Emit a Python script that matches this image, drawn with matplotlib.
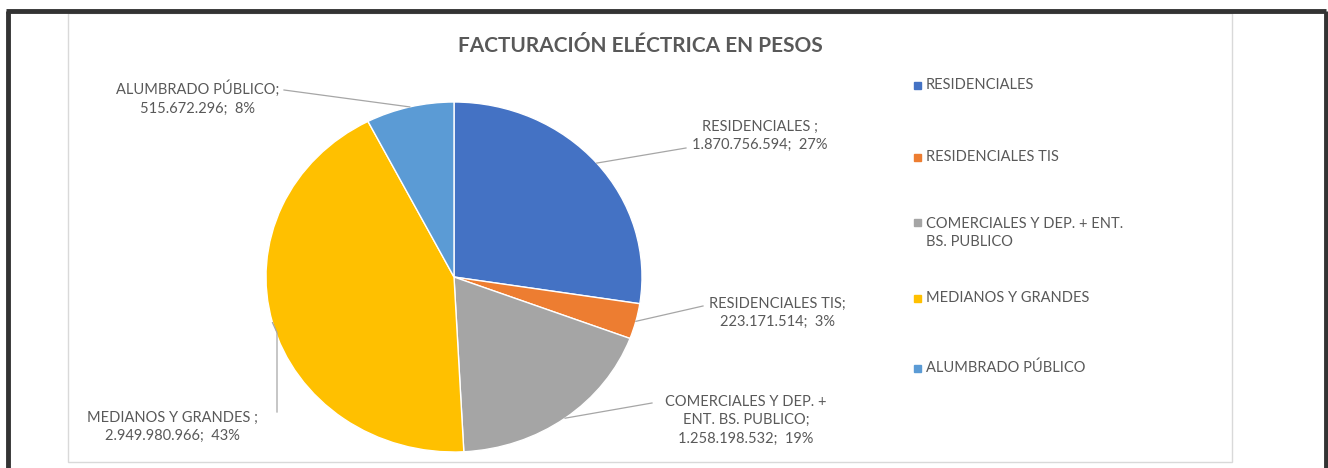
import matplotlib.pyplot as plt
import matplotlib.patches as mpatches
import numpy as np

categorias = ["RESIDENCIALES", "RESIDENCIALES TIS", "COMERCIALES Y DEP. + ENT. BS. PUBLICO",
              "MEDIANOS Y GRANDES", "ALUMBRADO PÚBLICO"]
valores = [1870756594, 223171514, 1258198532, 2949980966, 515672296]
etiquetas = ["RESIDENCIALES ;\n1.870.756.594;  27%",
             "RESIDENCIALES TIS;\n223.171.514;  3%",
             "COMERCIALES Y DEP. +\nENT. BS. PUBLICO;\n1.258.198.532;  19%",
             "MEDIANOS Y GRANDES ;\n2.949.980.966;  43%",
             "ALUMBRADO PÚBLICO;\n515.672.296;  8%"]
leyenda = ["RESIDENCIALES", "RESIDENCIALES TIS", "COMERCIALES Y DEP. + ENT.\nBS. PUBLICO",
           "MEDIANOS Y GRANDES", "ALUMBRADO PÚBLICO"]
colores = ["#4472C4", "#ED7D31", "#A5A5A5", "#FFC000", "#5B9BD5"]

W, H = 1328, 468
FONT = "Lato"
GRIS = "#595959"

# pie geometry in pixels (picture is slightly stretched horizontally)
cx, cy, rx, ry = 454, 277, 188, 175

fig = plt.figure(figsize=(W / 100, H / 100), dpi=100)
fig.patch.set_facecolor("white")

ax = fig.add_axes([(cx - rx) / W, (H - cy - ry) / H, 2 * rx / W, 2 * ry / H])
wedges, _ = ax.pie(valores, colors=colores, startangle=90, counterclock=False,
                   wedgeprops=dict(edgecolor="white", linewidth=1))
ax.set_aspect("auto")
ax.set_xlim(-1, 1)
ax.set_ylim(-1, 1)
ax.axis("off")

# overlay in pixel coords for frame, labels, leaders and legend
ov = fig.add_axes([0, 0, 1, 1], zorder=5)
ov.set_xlim(0, W)
ov.set_ylim(H, 0)
ov.axis("off")
ov.patch.set_alpha(0)

# chart area frame and outer dark border
ov.add_patch(mpatches.Rectangle((68, 13), 1164, 449, fill=False, edgecolor="#D9D9D9", lw=1))
ov.plot([8, 8], [10.5, H], color="#333333", lw=3.5, solid_capstyle="butt")
ov.plot([6, 1326], [10.5, 10.5], color="#333333", lw=3.5, solid_capstyle="butt")
ov.plot([1325.5, 1325.5], [10.5, H], color="#333333", lw=3.5, solid_capstyle="butt")

ov.text(640, 46, "FACTURACIÓN ELÉCTRICA EN PESOS", ha="center", va="center",
        fontsize=15, fontweight="bold", color=GRIS, family=FONT)

# data labels: (text center x, center y, leader end x, leader end y)
pos_etq = [(760, 136, 686, 148),
           (777, 313, 703, 306),
           (746, 420, 652, 403),
           (172, 427, 277, 412),
           (198, 98, 284, 90)]

for w, txt, (tx, ty, ex, ey) in zip(wedges, etiquetas, pos_etq):
    ang = np.deg2rad((w.theta1 + w.theta2) / 2)
    sx = cx + rx * np.cos(ang)
    sy = cy - ry * np.sin(ang)
    if txt.startswith("MEDIANOS"):
        ov.plot([sx, ex, ex], [sy, sy + 10, ey], color="#A6A6A6", lw=0.9)
    else:
        ov.plot([sx, ex], [sy, ey], color="#A6A6A6", lw=0.9)
    ov.text(tx, ty, txt, ha="center", va="center", fontsize=10.5, color=GRIS,
            family=FONT, linespacing=1.4)

# legend
ley_y = [85, 157, 233, 298, 368]
for c, txt, y in zip(colores, leyenda, ley_y):
    y0 = y - 11 if "\n" in txt else y
    ov.add_patch(mpatches.Rectangle((914, y0 - 3.5), 7, 7, color=c))
    ov.text(926, y, txt, ha="left", va="center", fontsize=10.5, color=GRIS,
            family=FONT, linespacing=1.4)

fig.savefig("out.png", dpi=100)
